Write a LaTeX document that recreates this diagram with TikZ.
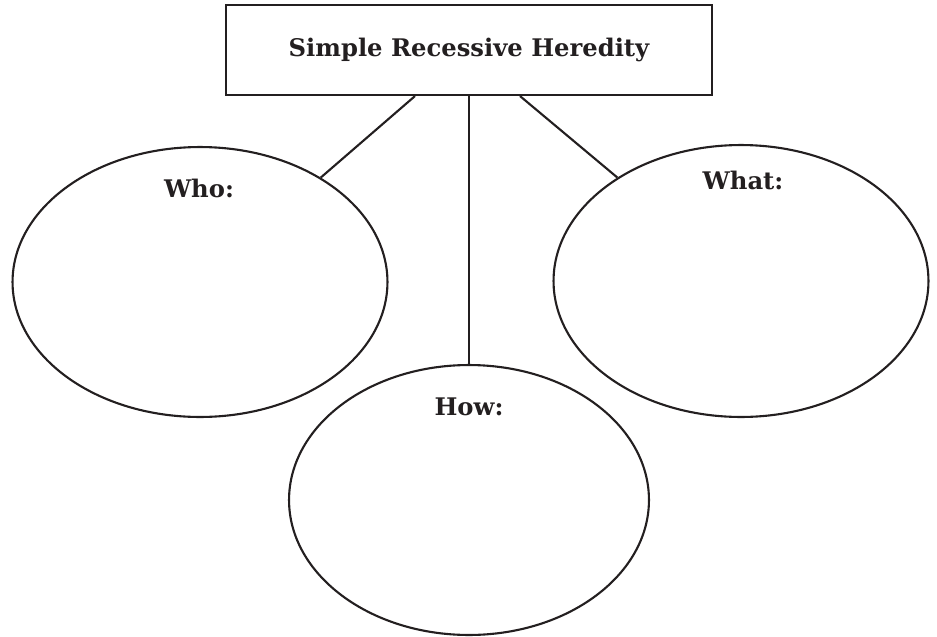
\documentclass[tikz,border=0pt]{standalone}
\usepackage{fontspec}
\setmainfont{DejaVu Serif}
\usetikzlibrary{positioning}
\usetikzlibrary{shapes}
\usetikzlibrary{calc}
\definecolor{ink}{HTML}{231F20}
\tikzstyle{titlebox}=[rectangle,draw=ink,text=ink,line width=1.2pt,minimum width=9.72cm,minimum height=1.8cm,inner sep=0pt,font=\bfseries\fontsize{13.8}{16}\selectfont]
\tikzstyle{bubble}=[ellipse,draw=ink,line width=1.2pt,inner sep=0pt]
\tikzstyle{tag}=[text=ink,font=\bfseries\fontsize{13.8}{16}\selectfont,inner sep=0pt]
\tikzstyle{link}=[draw=ink,line width=1.2pt]

\begin{document}
\begin{tikzpicture}[x=0.02cm,y=-0.02cm]
    \useasboundingbox (0,0) rectangle (937,636);
    \node[titlebox] (heading) at (469,50) {Simple Recessive Heredity};

    \foreach \pos/\name/\w/\h in {{(200,282)/who/7.5/5.4}, {(741,281)/what/7.5/5.44}, {(469,500)/how/7.2/5.4}}
        \node[bubble,minimum width=\w cm,minimum height=\h cm] (\name) at \pos {};

    \foreach \pos/\name/\txt in {{(199,188)/whotag/Who:}, {(743,180)/whattag/What:}, {(469,407)/howtag/How:}}
        \node[tag] (\name) at \pos {\txt};

    \path[link] ([xshift=-1.08cm]heading.south) -- (who);
    \path[link] (heading.south) -- (how);
    \path[link] ([xshift=1.02cm]heading.south) -- (what);
\end{tikzpicture}
\end{document}
